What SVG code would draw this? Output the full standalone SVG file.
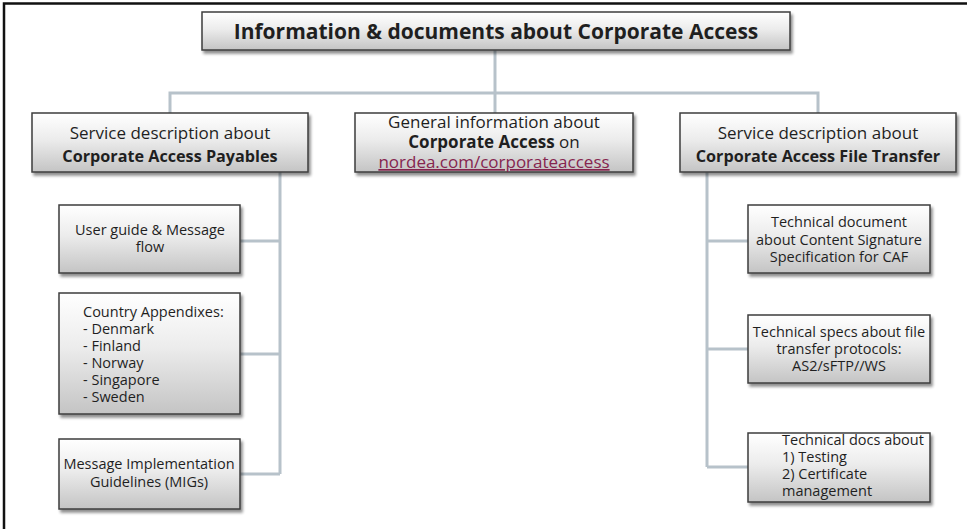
<svg xmlns="http://www.w3.org/2000/svg" width="967" height="529" viewBox="0 0 967 529">
  <defs>
    <linearGradient id="boxGrad" x1="0" y1="0" x2="0" y2="1">
      <stop offset="0" stop-color="#ffffff"/>
      <stop offset="0.45" stop-color="#ececec"/>
      <stop offset="1" stop-color="#c4c4c4"/>
    </linearGradient>
    <filter id="shadow" x="-10%" y="-10%" width="125%" height="140%">
      <feGaussianBlur in="SourceAlpha" stdDeviation="1.6"/>
      <feOffset dx="2" dy="2.5" result="b"/>
      <feComponentTransfer><feFuncA type="linear" slope="0.45"/></feComponentTransfer>
      <feMerge><feMergeNode/><feMergeNode in="SourceGraphic"/></feMerge>
    </filter>
  </defs>
  <style>
    .box { fill: url(#boxGrad); stroke: #3d3d3d; stroke-width: 1.5; filter: url(#shadow); }
    .conn { fill: none; stroke: #b7c2ca; stroke-width: 3; }
    text { font-family: "Open Sans", "Noto Sans", "Liberation Sans", sans-serif; fill: #1f1f1f; }
    .title { font-size: 21px; font-weight: bold; text-anchor: middle; }
    .head { font-size: 17px; text-anchor: middle; }
    .child { font-size: 14.5px; text-anchor: middle; }
    .childL { font-size: 14.5px; }
    .b { font-weight: bold; }
    .hb { font-size: 16.2px; }
    .link { fill: #86254f; text-decoration: underline; }
  </style>
  <rect x="0" y="0" width="967" height="529" fill="#ffffff"/>
  <!-- outer frame -->
  <path d="M4,529 V3.5 H967" fill="none" stroke="#111111" stroke-width="2.5"/>

  <g id="connectors">
    <path class="conn" d="M495,50 V93"/>
    <path class="conn" d="M170,113 V93 H818 V113"/>
    <path class="conn" d="M495,93 V113"/>
    <path class="conn" d="M280,172 V474"/>
    <path class="conn" d="M240,241 H280"/>
    <path class="conn" d="M240,354 H280"/>
    <path class="conn" d="M240,474 H280"/>
    <path class="conn" d="M707,172 V467"/>
    <path class="conn" d="M707,241 H748"/>
    <path class="conn" d="M707,349 H748"/>
    <path class="conn" d="M707,467 H748"/>
  </g>

  <g id="root">
    <rect class="box" x="202" y="12" width="588" height="38"/>
    <text class="title" x="496" y="38.5">Information &amp; documents about Corporate Access</text>
  </g>

  <g id="payables">
    <rect class="box" x="32" y="113" width="276" height="59"/>
    <text class="head" x="170" y="139">Service description about</text>
    <text class="head b hb" x="170" y="162">Corporate Access Payables</text>
  </g>

  <g id="general">
    <rect class="box" x="355" y="113" width="278" height="59"/>
    <text class="head" x="494" y="128">General information about</text>
    <text class="head" x="494" y="148"><tspan class="b">Corporate Access</tspan> on</text>
    <text class="head link" x="494" y="168">nordea.com/corporateaccess</text>
  </g>

  <g id="filetransfer">
    <rect class="box" x="680" y="113" width="276" height="59"/>
    <text class="head" x="818" y="139">Service description about</text>
    <text class="head b hb" x="818" y="162">Corporate Access File Transfer</text>
  </g>

  <g id="userguide">
    <rect class="box" x="59" y="205" width="181" height="68"/>
    <text class="child" x="150" y="235">User guide &amp; Message</text>
    <text class="child" x="150" y="252">flow</text>
  </g>

  <g id="appendixes">
    <rect class="box" x="59" y="293" width="181" height="121"/>
    <text class="childL" x="83" y="317">Country Appendixes:</text>
    <text class="childL" x="83" y="334">- Denmark</text>
    <text class="childL" x="83" y="351">- Finland</text>
    <text class="childL" x="83" y="368">- Norway</text>
    <text class="childL" x="83" y="385">- Singapore</text>
    <text class="childL" x="83" y="402">- Sweden</text>
  </g>

  <g id="migs">
    <rect class="box" x="59" y="439" width="181" height="70"/>
    <text class="child" x="149" y="469">Message Implementation</text>
    <text class="child" x="149" y="487">Guidelines (MIGs)</text>
  </g>

  <g id="signature">
    <rect class="box" x="748" y="205" width="182" height="68"/>
    <text class="child" x="839" y="227">Technical document</text>
    <text class="child" x="839" y="245">about Content Signature</text>
    <text class="child" x="839" y="262">Specification for CAF</text>
  </g>

  <g id="protocols">
    <rect class="box" x="748" y="315" width="182" height="68"/>
    <text class="child" x="839" y="337">Technical specs about file</text>
    <text class="child" x="839" y="354">transfer protocols:</text>
    <text class="child" x="839" y="371">AS2/sFTP//WS</text>
  </g>

  <g id="testing">
    <rect class="box" x="748" y="433" width="182" height="69"/>
    <text class="childL" x="782" y="445">Technical docs about</text>
    <text class="childL" x="782" y="462">1) Testing</text>
    <text class="childL" x="782" y="479">2) Certificate</text>
    <text class="childL" x="782" y="496">management</text>
  </g>
</svg>
